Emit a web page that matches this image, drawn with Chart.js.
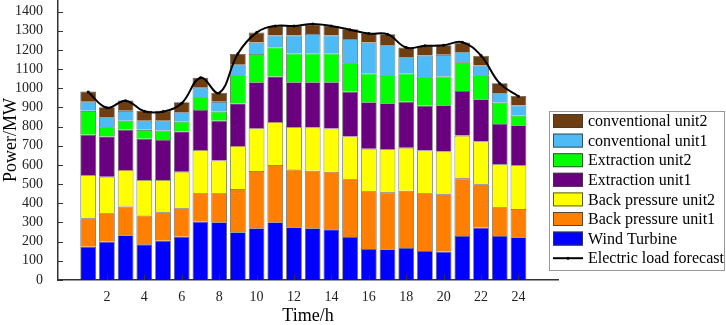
<!DOCTYPE html>
<html>
<head>
<meta charset="utf-8">
<script src="https://cdn.jsdelivr.net/npm/chart.js@4.4.1/dist/chart.umd.min.js"></script>
<style>
  html, body { margin: 0; padding: 0; background: #fff; }
  #wrap { width: 726px; height: 325px; position: relative; }
</style>
</head>
<body>
<div id="wrap"><canvas id="c"></canvas></div>
<script>
// hours on the x axis
const hours = [1,2,3,4,5,6,7,8,9,10,11,12,13,14,15,16,17,18,19,20,21,22,23,24];
const xTicks = [2,4,6,8,10,12,14,16,18,20,22,24];
const yTicks = [0,100,200,300,400,500,600,700,800,900,1000,1100,1200,1300,1400];

// unit outputs (MW), stacked bottom to top
const windTurbine = [174,200,233,186,205,226,304,301,249,270,301,275,270,264,224,162,160,167,151,148,230,273,230,223];
const backPressure1 = [148,148,150,150,148,148,148,151,226,299,299,301,300,301,301,301,297,299,301,299,300,226,149,147];
const backPressure2 = [226,191,191,186,169,191,226,171,224,222,224,222,225,225,223,222,225,224,223,223,223,223,224,228];
const extraction1 = [209,209,209,214,208,209,209,207,221,240,237,233,236,241,233,242,240,239,233,241,233,221,211,209];
const extraction2 = [125,49,48,47,49,52,66,48,148,148,151,150,150,150,149,150,146,148,149,150,150,125,111,50];
const conventional1 = [48,52,51,48,51,49,50,51,55,59,63,94,102,94,127,161,156,85,113,113,52,50,49,53];
const conventional2 = [53,52,54,51,52,52,51,48,56,52,50,50,49,50,51,49,58,50,51,50,50,51,52,50];
const loadForecast = [980,898,935,880,878,922,1055,975,1180,1290,1325,1325,1335,1325,1305,1285,1282,1212,1221,1224,1240,1170,1025,958];

const seriesNames = ['Wind Turbine','Back pressure unit1','Back pressure unit2','Extraction unit1','Extraction unit2','conventional unit1','conventional unit2'];
const seriesData = [windTurbine, backPressure1, backPressure2, extraction1, extraction2, conventional1, conventional2];
const seriesColors = ['#0000ff','#ff8000','#ffff00','#6a0080','#00ff00','#4dbbf5','#6e3d10'];

const serif = '"Liberation Serif", "Times New Roman", serif';
const pts = arr => arr.map((v, i) => ({ x: hours[i], y: v }));

const datasets = seriesData.map((arr, i) => ({
  type: 'bar',
  label: seriesNames[i],
  data: pts(arr),
  backgroundColor: seriesColors[i],
  borderColor: 'rgba(60,60,60,0.85)',
  borderWidth: 0.8,
  barPercentage: 1,
  categoryPercentage: 0.84,
  stack: 'units',
  order: 1
}));
datasets.push({
  type: 'line',
  label: 'Electric load forecast',
  data: pts(loadForecast),
  borderColor: '#000',
  borderWidth: 2,
  pointRadius: 1.5,
  pointBackgroundColor: '#000',
  pointBorderWidth: 0,
  tension: 0.4,
  stack: 'load',
  order: 0
});

// inward tick marks, like the original axes
const innerTicks = {
  id: 'innerTicks',
  afterDraw(chart) {
    const { ctx, chartArea: a, scales: { x, y } } = chart;
    ctx.save();
    ctx.strokeStyle = '#333';
    ctx.lineWidth = 1.2;
    ctx.beginPath();
    xTicks.forEach(v => {
      const px = Math.round(x.getPixelForValue(v)) + 0.5;
      ctx.moveTo(px, a.bottom);
      ctx.lineTo(px, a.bottom - 5);
    });
    yTicks.forEach(v => {
      const py = Math.round(y.getPixelForValue(v)) + 0.5;
      ctx.moveTo(a.left, py);
      ctx.lineTo(a.left + 5, py);
    });
    ctx.stroke();
    ctx.restore();
  }
};

// boxed legend on the right, top entry first
const boxLegend = {
  id: 'boxLegend',
  afterDraw(chart) {
    const ctx = chart.ctx;
    const bx = 549, by = 111, bw = 176, bh = 160;
    ctx.save();
    ctx.fillStyle = '#fff';
    ctx.fillRect(bx, by, bw, bh);
    ctx.strokeStyle = '#999';
    ctx.lineWidth = 1;
    ctx.strokeRect(bx + 0.5, by + 0.5, bw - 1, bh - 1);
    ctx.font = '16px ' + serif;
    ctx.textBaseline = 'middle';
    ctx.fillStyle = '#000';
    const rows = [];
    for (let i = seriesNames.length - 1; i >= 0; i--) rows.push(i);
    rows.forEach((i, r) => {
      const cy = by + 10 + r * 19.6;
      ctx.fillStyle = seriesColors[i];
      ctx.fillRect(553, cy - 7, 30, 14);
      ctx.strokeStyle = 'rgba(60,60,60,0.85)';
      ctx.strokeRect(553.5, cy - 6.5, 29, 13);
      ctx.fillStyle = '#000';
      ctx.fillText(seriesNames[i], 588, cy + 1);
    });
    const ly = by + 10 + 7 * 19.6;
    ctx.strokeStyle = '#000';
    ctx.lineWidth = 2;
    ctx.beginPath();
    ctx.moveTo(553, ly);
    ctx.lineTo(583, ly);
    ctx.stroke();
    ctx.beginPath();
    ctx.arc(568, ly, 1.5, 0, Math.PI * 2);
    ctx.fill();
    ctx.fillText('Electric load forecast', 588, ly + 1);
    ctx.restore();
  }
};

new Chart(document.getElementById('c'), {
  data: { datasets },
  options: {
    responsive: true,
    maintainAspectRatio: false,
    animation: false,
    layout: { autoPadding: false, padding: { left: 0, right: 168, top: 0, bottom: 0 } },
    plugins: {
      legend: { display: false },
      tooltip: { enabled: false }
    },
    scales: {
      x: {
        type: 'linear',
        stacked: true,
        min: 0.5,
        max: 25,
        grid: { display: false },
        border: { display: true, color: '#333', width: 1.5 },
        afterBuildTicks: s => { s.ticks = xTicks.map(v => ({ value: v })); },
        afterFit: s => { s.height = 45; s.paddingLeft = 0; s.paddingRight = 0; },
        ticks: { font: { family: serif, size: 14 }, color: '#222', padding: 1, maxRotation: 0, autoSkip: false, callback: v => String(v) },
        title: { display: true, text: 'Time/h', font: { family: serif, size: 18, lineHeight: 1 }, color: '#000', padding: { top: 0, bottom: 0 } }
      },
      y: {
        stacked: true,
        min: 0,
        max: 1460,
        grid: { display: false },
        border: { display: true, color: '#333', width: 1.5 },
        afterBuildTicks: s => { s.ticks = yTicks.map(v => ({ value: v })); },
        afterFit: s => { s.width = 58; s.paddingTop = 0; s.paddingBottom = 0; },
        ticks: { font: { family: serif, size: 14 }, color: '#222', padding: 7, autoSkip: false, callback: v => String(v) },
        title: { display: true, text: 'Power/MW', font: { family: serif, size: 18 }, color: '#000', padding: { top: 0, bottom: 0 } }
      }
    }
  },
  plugins: [innerTicks, boxLegend]
});
</script>
</body>
</html>
